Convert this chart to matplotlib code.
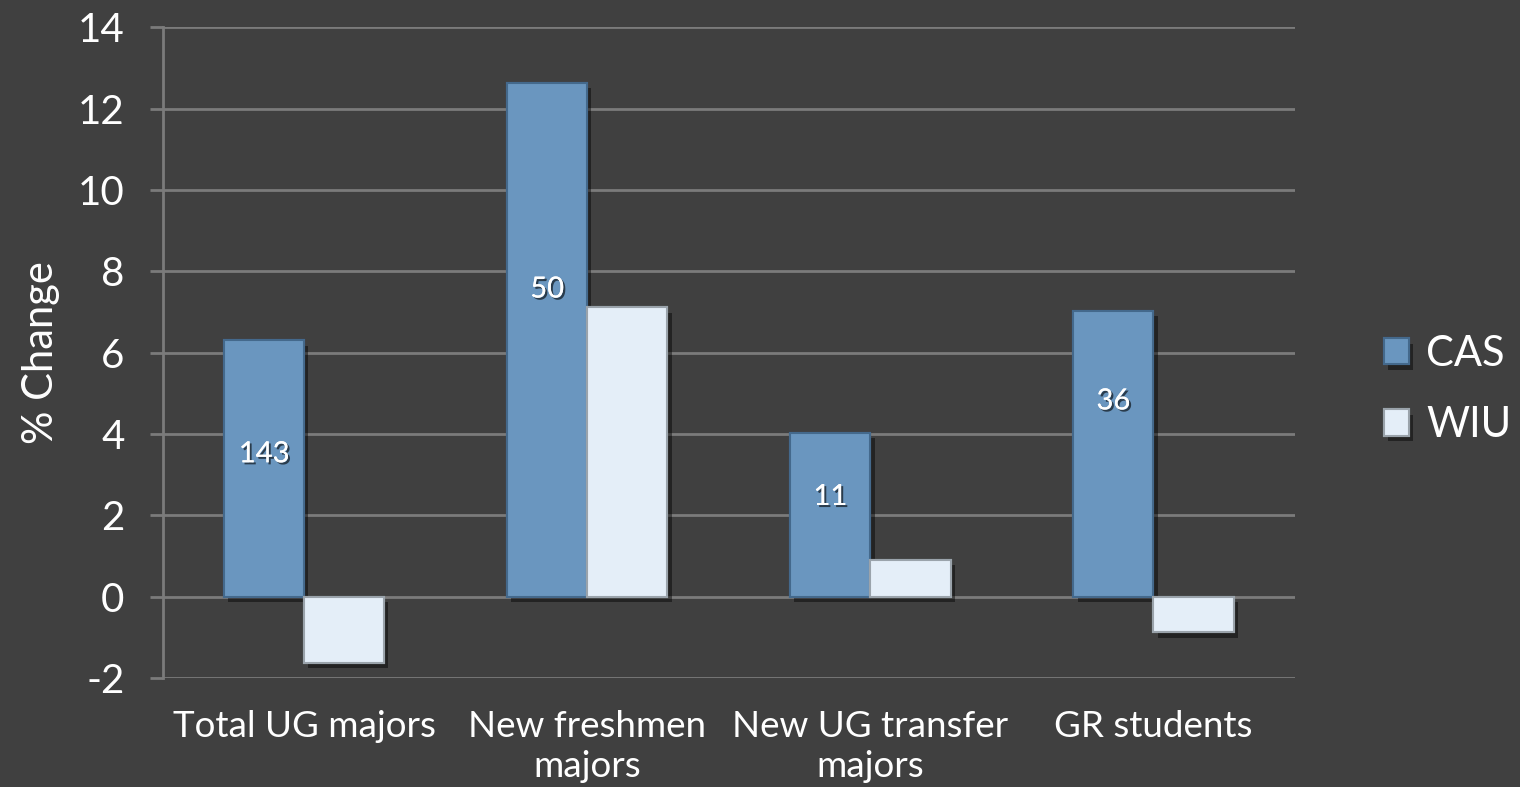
import numpy as np
import matplotlib
matplotlib.use("Agg")
import matplotlib.pyplot as plt
import matplotlib.patheffects as pe

plt.rcParams['font.family'] = ['Lato', 'DejaVu Sans']

# データ
categories = ['Total UG majors', 'New freshmen\nmajors', 'New UG transfer\nmajors', 'GR students']
cas = [6.3, 12.63, 4.03, 7.03]
wiu = [-1.62, 7.12, 0.91, -0.88]
cas_counts = ['143', '50', '11', '36']
count_y = [3.5, 7.55, 2.45, 4.8]  # ラベルの位置 (%)
yticks = [-2, 0, 2, 4, 6, 8, 10, 12, 14]

bg = '#404040'
grid_col = '#7b7b7b'
cas_col = '#6a96bf'
cas_edge = '#44698c'
wiu_col = '#e4eef8'
wiu_edge = '#9aa3ab'

fig = plt.figure(figsize=(15.2, 7.87), dpi=100, facecolor=bg)
ax = fig.add_axes([0.107, 0.1385, 0.745, 0.827], facecolor=bg)

x = np.arange(len(categories))
w = 0.283
shadow = [pe.withSimplePatchShadow(offset=(3, -4), shadow_rgbFace='black', alpha=0.45), pe.Normal()]

b1 = ax.bar(x - w / 2, cas, w, color=cas_col, edgecolor=cas_edge, linewidth=1.5,
            label='CAS', zorder=3, path_effects=shadow)
b2 = ax.bar(x + w / 2, wiu, w, color=wiu_col, edgecolor=wiu_edge, linewidth=1.5,
            label='WIU', zorder=3, path_effects=shadow)

# 件数ラベル
for xi, t, yy in zip(x, cas_counts, count_y):
    ax.text(xi - w / 2, yy, t, ha='center', va='center', color='white', fontsize=21, zorder=4,
            path_effects=[pe.withSimplePatchShadow(offset=(1.5, -1.5), shadow_rgbFace='black', alpha=0.6), pe.Normal()])

ax.set_xlim(-0.5, len(categories) - 0.5)
ax.set_ylim(-2, 14)
ax.set_yticks(yticks)
ax.set_yticklabels([str(v) for v in yticks])
ax.set_xticks(x)
ax.set_xticklabels(categories, linespacing=1.25)

ax.grid(axis='y', color=grid_col, linewidth=2, zorder=0)
ax.set_axisbelow(True)
for s in ['top', 'right', 'bottom']:
    ax.spines[s].set_visible(False)
ax.spines['left'].set_color(grid_col)
ax.spines['left'].set_linewidth(2)

ax.tick_params(axis='y', colors=grid_col, length=9.4, width=2, labelsize=29, labelcolor='white', pad=18)
ax.tick_params(axis='x', length=0, labelsize=26.5, labelcolor='white', pad=23)

ax.set_ylabel('% Change', color='white', fontsize=30, labelpad=13)

leg = fig.legend(handles=[b1, b2], labels=['CAS', 'WIU'], loc='center left',
                 bbox_to_anchor=(0.886, 0.505), frameon=False, fontsize=30,
                 handlelength=0.6, handleheight=0.6, handletextpad=0.4, labelspacing=0.8)
for t in leg.get_texts():
    t.set_color('white')

plt.savefig('out.png', dpi=100, facecolor=bg)
